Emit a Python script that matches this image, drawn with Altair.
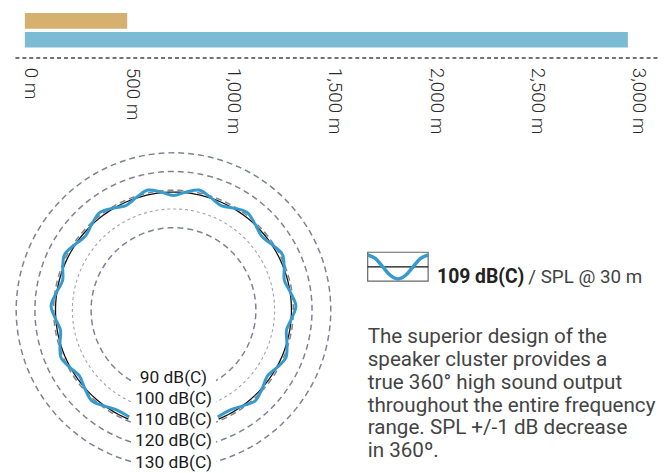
import altair as alt
import numpy as np
import pandas as pd

# ---------------- data ----------------
# top distance bars (metres)
bar_names = ["Reference", "Speaker cluster"]
bar_metres = [505, 2975]
bar_colors = ["#d5b06f", "#7bbcd4"]
tick_metres = [0, 500, 1000, 1500, 2000, 2500, 3000]

# polar SPL diagram
ring_levels = [90, 100, 110, 120, 130]
nominal_spl = 109
wave_angle = [-157.5, -150, -144, -138, -131.5, -125, -119, -113, -106.5, -100,
              -94, -88, -81.5, -75, -69, -63, -56.5, -50, -43.5, -37, -30.5,
              -24.5, -18, -12, -6, 0, 6, 12, 18, 24.5, 30.5, 37, 43.5, 50,
              56.5, 63, 69, 75, 81.5, 88, 94, 100, 106.5, 113, 119, 125,
              131.5, 138, 144, 150, 157.5]
wave_spl = [107.8, 107.4, 109.2, 111.2, 109.2, 107.3, 109.2, 111.2, 109.2, 107.3,
            109.3, 111.4, 109.2, 107.3, 109.3, 111.3, 109.2, 107.4, 109.3, 111.3, 109.2,
            107.3, 109.4, 111.5, 109.3, 107.2, 109.3, 111.5, 109.4, 107.3, 109.2, 111.3,
            109.3, 107.4, 109.2, 111.3, 109.3, 107.3, 109.2, 111.4, 109.3, 107.3,
            109.2, 111.2, 109.2, 107.3, 109.2, 111.2, 109.2, 107.4, 107.8]

# legend glyph (one period of the ripple)
icon_t = [0, 0.125, 0.25, 0.375, 0.5, 0.625, 0.75, 0.875, 1]
icon_v = [1, 0.854, 0.5, 0.146, 0, 0.146, 0.5, 0.854, 1]

legend_bold = "109 dB(C)"
legend_rest = "/ SPL @ 30 m"
para_lines = [
    "The superior design of the",
    "speaker cluster provides a",
    "true 360° high sound output",
    "throughout the entire frequency",
    "range. SPL +/-1 dB decrease",
    "in 360º.",
]
ring_labels = [f"{lvl} dB(C)" for lvl in ring_levels]

# ---------------- helpers ----------------
FONT = "Roboto"
POLAR_ZERO = 46          # dB value at the centre of the polar plot
LABEL_HALF = 22.75       # half width of the label gap, in polar units

W, H = 650, 462

bars_df = pd.DataFrame({"name": bar_names, "metres": bar_metres})

rows = []
for lvl in ring_levels:
    gap = np.degrees(np.arcsin(LABEL_HALF / (lvl - POLAR_ZERO)))
    for a in np.linspace(-(180 - gap), 180 - gap, 121):
        rows.append({"ring": lvl, "level": lvl, "angle": float(a)})
rings_df = pd.DataFrame(rows)
circle_df = pd.DataFrame({"ring": nominal_spl, "level": nominal_spl,
                          "angle": np.linspace(-157.5, 157.5, 121)})
wave_df = pd.DataFrame({"ring": "wave", "angle": wave_angle, "level": wave_spl})

xs = alt.Scale(domain=[-84.66, 259.26], nice=False, zero=False)
ys = alt.Scale(domain=[-85.87, 158.57], nice=False, zero=False)


def polar(chart):
    return chart.transform_calculate(
        px=f"(datum.level - {POLAR_ZERO}) * sin(datum.angle * PI / 180)",
        py=f"(datum.level - {POLAR_ZERO}) * cos(datum.angle * PI / 180)",
    ).encode(
        x=alt.X("px:Q", scale=xs, axis=None),
        y=alt.Y("py:Q", scale=ys, axis=None),
        order="angle:Q",
        detail="ring:N",
    )


# ---------------- layers ----------------
bars = alt.Chart(bars_df).mark_bar().encode(
    x=alt.X("metres:Q",
            scale=alt.Scale(domain=[-48.9, 3128.5], nice=False),
            axis=alt.Axis(values=tick_metres,
                          labelExpr="format(datum.value, ',') + ' m'",
                          labelAngle=90, labelAlign="left",
                          labelBaseline="alphabetic", labelPadding=10,
                          ticks=False, grid=False, title=None,
                          domainDash=[4, 3], domainColor="#444",
                          domainWidth=1.5, offset=44.7 - H,
                          labelFont=FONT, labelFontSize=19,
                          labelFontWeight=300, labelColor="#2a2a2a",
                          labelFlush=False, labelOverlap=False)),
    y=alt.Y("name:N", sort=bar_names,
            scale=alt.Scale(range=[0, 34.7], paddingInner=0.174,
                            paddingOuter=0),
            axis=None),
    color=alt.Color("name:N",
                    scale=alt.Scale(domain=bar_names, range=bar_colors),
                    legend=None),
)

dark_rings = polar(
    alt.Chart(rings_df[rings_df.ring != 100]).mark_line(
        color="#7e8391", strokeWidth=1.5, strokeDash=[6, 4])
)
light_ring = polar(
    alt.Chart(rings_df[rings_df.ring == 100]).mark_line(
        color="#a3a3a3", strokeWidth=1.1, strokeDash=[3, 3])
)
black_circle = polar(
    alt.Chart(circle_df).mark_line(color="#111", strokeWidth=1.3)
)
wave = polar(
    alt.Chart(wave_df).mark_line(interpolate="catmull-rom", color="#369bcc",
                                 strokeWidth=3)
)

ring_text = alt.Chart(pd.DataFrame({"k": [0]})).mark_text(
    text=ring_labels, align="center", baseline="top", lineHeight=21.25,
    font=FONT, fontSize=17.5, color="#1a1a1a",
).encode(x=alt.value(160), y=alt.value(359.6))

icon_xs = alt.Scale(domain=[0, 1], range=[356, 417], nice=False, zero=False)
icon_ys = alt.Scale(domain=[0, 1], range=[268.3, 244], nice=False, zero=False)

icon_box = alt.Chart(pd.DataFrame({"x0": [0], "x1": [1], "y0": [-0.09],
                                   "y1": [1.11]})).mark_rect(
    fill="white", fillOpacity=0, stroke="#666", strokeWidth=1.2
).encode(
    x=alt.X("x0:Q", scale=icon_xs, axis=None), x2="x1:Q",
    y=alt.Y("y0:Q", scale=icon_ys, axis=None), y2="y1:Q",
)
icon_mid = alt.Chart(pd.DataFrame({"x0": [0], "x1": [1], "y": [0.5]})).mark_rule(
    color="#111", strokeWidth=1.3
).encode(
    x=alt.X("x0:Q", scale=icon_xs, axis=None), x2="x1:Q",
    y=alt.Y("y:Q", scale=icon_ys, axis=None),
)
icon_wave = alt.Chart(pd.DataFrame({"t": icon_t, "v": icon_v})).mark_line(
    interpolate="catmull-rom", color="#369bcc", strokeWidth=3.5
).encode(
    x=alt.X("t:Q", scale=icon_xs, axis=None),
    y=alt.Y("v:Q", scale=icon_ys, axis=None),
    order="t:Q",
)

bold_text = alt.Chart(pd.DataFrame({"k": [0]})).mark_text(
    text=legend_bold, align="left", baseline="alphabetic", font=FONT,
    fontSize=19.5, fontWeight="bold", color="#222",
).encode(x=alt.value(426), y=alt.value(272.3))

rest_text = alt.Chart(pd.DataFrame({"k": [0]})).mark_text(
    text=legend_rest, align="left", baseline="alphabetic", font=FONT,
    fontSize=19, color="#444",
).encode(x=alt.value(518), y=alt.value(272.3))

paragraph = alt.Chart(pd.DataFrame({"k": [0]})).mark_text(
    text=para_lines, align="left", baseline="top", lineHeight=23,
    font=FONT, fontSize=20.8, color="#444",
).encode(x=alt.value(356), y=alt.value(317.2))

chart = alt.layer(
    bars, dark_rings, light_ring, black_circle, wave, ring_text,
    icon_box, icon_mid, icon_wave, bold_text, rest_text, paragraph,
).resolve_scale(
    x="independent", y="independent", color="independent"
).properties(
    width=W, height=H,
    padding={"left": 5, "top": 3, "right": 0, "bottom": 0},
).configure_view(strokeWidth=0)

chart.save("out.html", embed_options={"renderer": "svg", "actions": False})
